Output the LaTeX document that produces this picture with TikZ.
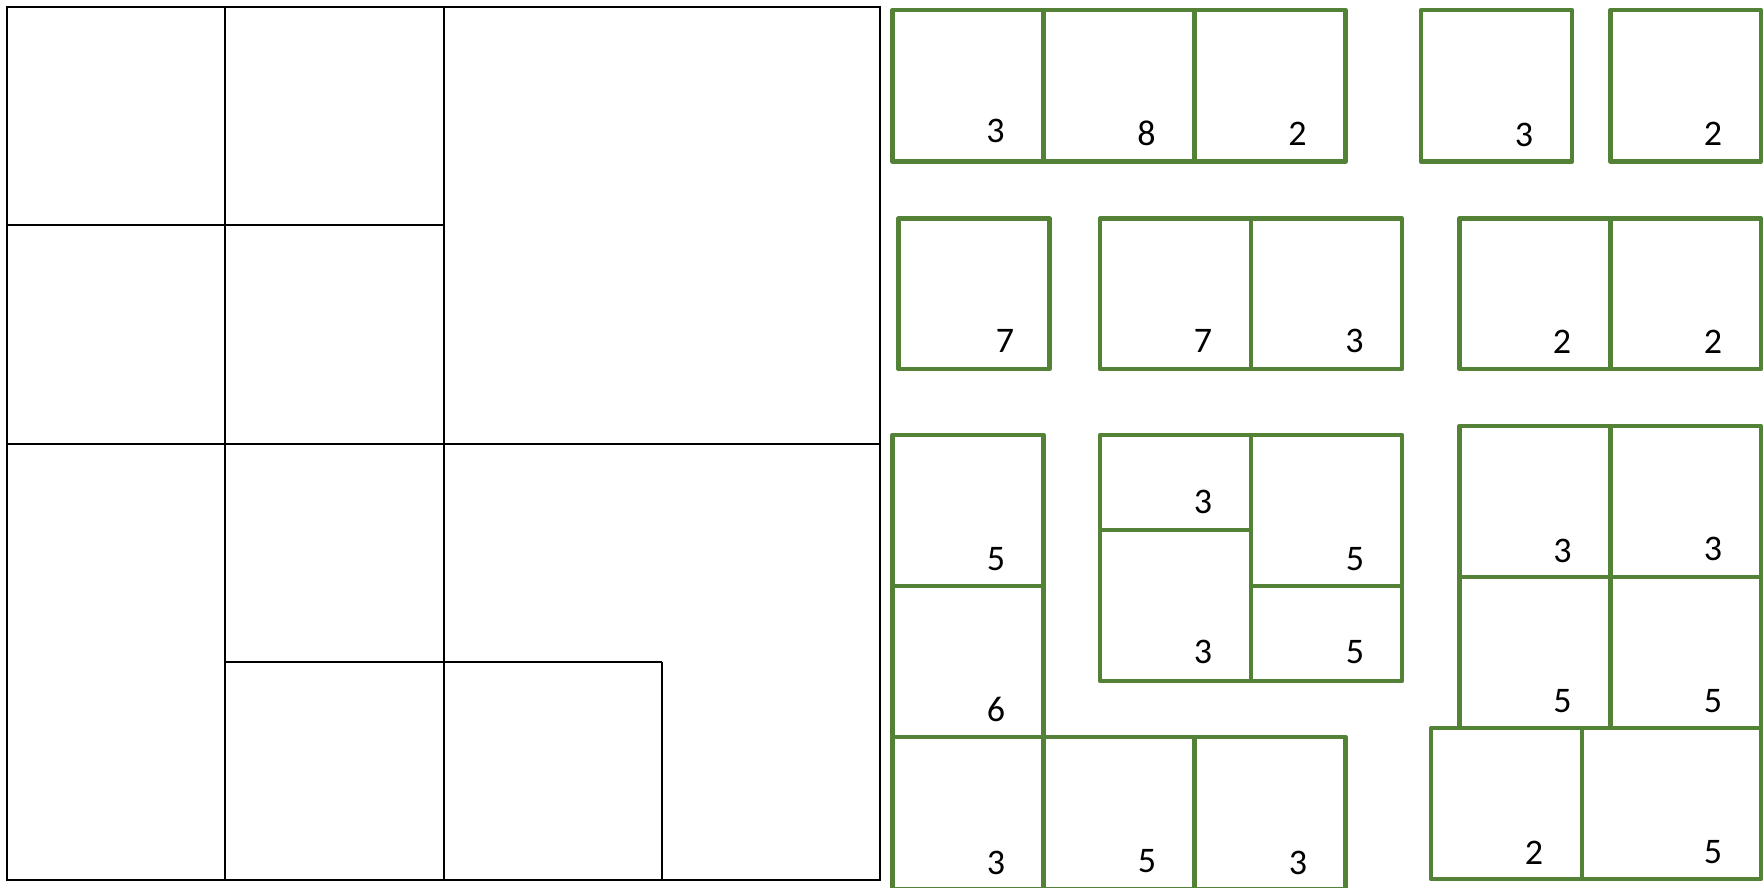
\documentclass[tikz,border=0pt]{standalone}
\usepackage{fontspec}
\setmainfont{Carlito}
\definecolor{leafgreen}{HTML}{538135}

\begin{document}
\begin{tikzpicture}[x=1pt,y=-1pt,
  grid/.style={line width=2pt,draw=black},
  tile/.style={line width=4.5pt,draw=leafgreen,line join=round},
  num/.style={inner sep=0pt,anchor=base,font=\fontsize{36}{40}\selectfont}]
  \useasboundingbox (0,0) rectangle (1764,887);
  \clip (0,0) rectangle (1764,887);
  % the big square, cut in quarters
  \draw[grid] (7,7) rectangle (880,880);
  \draw[grid] (225.25,7) -- (225.25,880);
  \draw[grid] (443.5,7) -- (443.5,880);
  \draw[grid] (7,225.25) -- (443.5,225.25);
  \draw[grid] (7,443.5) -- (880,443.5);
  \draw[grid] (225.25,661.75) -- (661.75,661.75);
  \draw[grid] (661.75,661.75) -- (661.75,880);

  % first row of pieces
  \draw[tile] (892.5,10) rectangle (1043.5,161.5);
  \node[num] (a1) at (995.5,142) {3};
  \draw[tile] (1043.5,10) rectangle (1194.5,161.5);
  \node[num] (a2) at (1146.5,145) {8};
  \draw[tile] (1194.5,10) rectangle (1345.5,161.5);
  \node[num] (a3) at (1297.5,145) {2};
  \draw[tile] (1421,10) rectangle (1572,161.5);
  \node[num] (b1) at (1524,146.5) {3};
  \draw[tile] (1610.5,10) rectangle (1761,161.5);
  \node[num] (c1) at (1713,145.5) {2};

  % second row
  \draw[tile] (898.5,218.5) rectangle (1049.5,369);
  \node[num] (d1) at (1005,352.5) {7};
  \draw[tile] (1100,218.5) rectangle (1251,369);
  \node[num] (e1) at (1203,352.5) {7};
  \draw[tile] (1251,218.5) rectangle (1402,369);
  \node[num] (e2) at (1354.5,352.5) {3};
  \draw[tile] (1459.5,218.5) rectangle (1610.5,369);
  \node[num] (f1) at (1562,353) {2};
  \draw[tile] (1610.5,218.5) rectangle (1761,369);
  \node[num] (f2) at (1713,353) {2};

  % the L piece on the left
  \draw[tile] (892.5,435) rectangle (1043.5,586);
  \node[num] (g1) at (996,570) {5};
  \draw[tile] (892.5,586) rectangle (1043.5,737);
  \node[num] (g2) at (996,721) {6};
  \draw[tile] (892.5,737) rectangle (1043.5,889);
  \node[num] (g3) at (996,874) {3};
  \draw[tile] (1043.5,737) rectangle (1194.5,889);
  \node[num] (g4) at (1147,872.5) {5};
  \draw[tile] (1194.5,737) rectangle (1345.5,889);
  \node[num] (g5) at (1298,874) {3};

  % middle block
  \draw[tile] (1100,435) rectangle (1251,530);
  \node[num] (h1) at (1203,513.5) {3};
  \draw[tile] (1100,530) rectangle (1251,681);
  \node[num] (h2) at (1203,663.5) {3};
  \draw[tile] (1251,435) rectangle (1402,586);
  \node[num] (h3) at (1355,570) {5};
  \draw[tile] (1251,586) rectangle (1402,681);
  \node[num] (h4) at (1355,663.5) {5};

  % right block
  \draw[tile] (1459.5,426) rectangle (1610.5,577);
  \node[num] (i1) at (1562.5,562) {3};
  \draw[tile] (1610.5,426) rectangle (1761,577);
  \node[num] (i2) at (1713,560) {3};
  \draw[tile] (1459.5,577) rectangle (1610.5,728);
  \node[num] (i3) at (1562.5,712) {5};
  \draw[tile] (1610.5,577) rectangle (1761,728);
  \node[num] (i4) at (1713,712) {5};
  \draw[tile] (1431,728) rectangle (1582,879);
  \node[num] (j1) at (1534,864) {2};
  \draw[tile] (1582,728) rectangle (1761,879);
  \node[num] (j2) at (1713,863) {5};
\end{tikzpicture}
\end{document}
